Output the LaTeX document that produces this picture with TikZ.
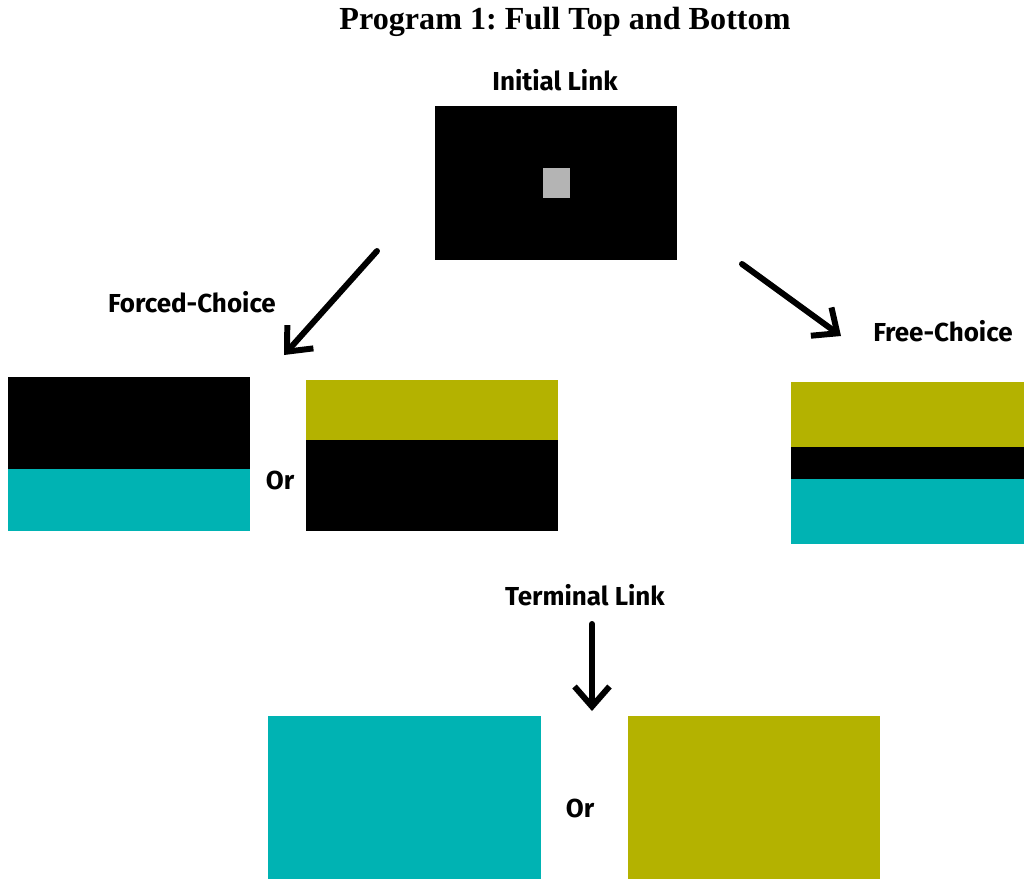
\documentclass[tikz,border=0pt]{standalone}
\usepackage{fontspec}
\setmainfont{Liberation Serif}
\newfontfamily\labelfont{Fira Sans}
\usetikzlibrary{positioning}
\usetikzlibrary{arrows.meta}
\definecolor{tealc}{RGB}{0,179,179}
\definecolor{olivec}{RGB}{180,178,0}
\definecolor{greyc}{RGB}{180,180,180}
\frenchspacing

\begin{document}
\begin{tikzpicture}[x=0.02cm,y=-0.02cm,
	lbl/.style={font=\labelfont\bfseries\fontsize{14.8}{17}\selectfont},
	bigarrow/.style={line width=3.4pt, line cap=round, -{Straight Barb[length=4mm,width=7mm,line width=3.4pt]}}]
					\useasboundingbox (0,0) rectangle (1024,879);

					\node[font=\bfseries\fontsize{18.3}{22}\selectfont] (title) at (565,22) {Program 1: Full Top and Bottom};
					\node[lbl] (initial) at (555,80) {Initial Link};
					\node[lbl] (forced) at (192,302) {Forced-Choice};
					\node[lbl] (free) at (943,331) {Free-Choice};
					\node[lbl] (terminal) at (585,595) {Terminal Link};
					\node[lbl] (or1) at (280,480) {Or};
					\node[lbl] (or2) at (580,808) {Or};

					% initial link
					\fill[black] (435,106) rectangle (677,260);
					\fill[greyc] (543,168) rectangle (570,198);

					% forced choice
					\fill[black] (8,377) rectangle (250,469);
					\fill[tealc] (8,469) rectangle (250,531);
					\fill[olivec] (306,380) rectangle (558,440);
					\fill[black] (306,440) rectangle (558,531);

					% free choice
					\fill[olivec] (791,382) rectangle (1024,447);
					\fill[black] (791,447) rectangle (1024,479);
					\fill[tealc] (791,479) rectangle (1024,544);

					% terminal link
					\fill[tealc] (268,716) rectangle (541,879);
					\fill[olivec] (628,716) rectangle (880,879);

					\coordinate (a1) at (377,251);
					\coordinate (a2) at (284,355);
					\coordinate (b1) at (742,264);
					\coordinate (b2) at (841,336);
					\coordinate (c1) at (592,624);
					\coordinate (c2) at (592,711);
					\draw[bigarrow] (a1) -- (a2);
					\draw[bigarrow] (b1) -- (b2);
					\draw[bigarrow] (c1) -- (c2);

				\end{tikzpicture}
\end{document}
